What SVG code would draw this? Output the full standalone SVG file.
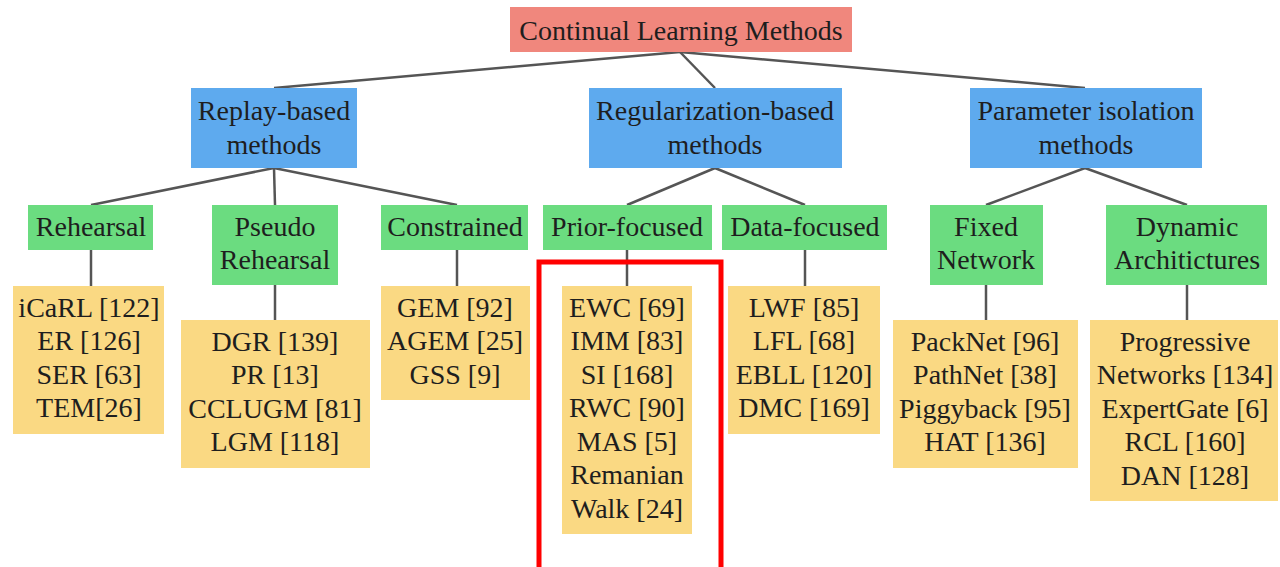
<svg xmlns="http://www.w3.org/2000/svg" width="1280" height="567" viewBox="0 0 1280 567">
<style>
text{font-family:"Liberation Serif","Times New Roman",serif;font-size:28px;fill:#1e1e1e;text-anchor:middle}
.root{fill:#f0877d}
.blue{fill:#5eaaee}
.green{fill:#6bdc80}
.yel{fill:#fad983}
.conn line{stroke:#555;stroke-width:2.5}
</style>
<rect width="1280" height="567" fill="#fff"/>
<g class="conn">
<line x1="680" y1="52" x2="274" y2="88"/>
<line x1="680" y1="52" x2="715" y2="88"/>
<line x1="680" y1="52" x2="1085" y2="88"/>
<line x1="274" y1="168" x2="91" y2="205"/>
<line x1="274" y1="168" x2="275" y2="205"/>
<line x1="274" y1="168" x2="457" y2="205"/>
<line x1="715" y1="168" x2="627" y2="205"/>
<line x1="715" y1="168" x2="805" y2="205"/>
<line x1="1085" y1="168" x2="986" y2="205"/>
<line x1="1085" y1="168" x2="1187" y2="205"/>
<line x1="91" y1="250" x2="91" y2="286"/>
<line x1="275" y1="285" x2="275" y2="320"/>
<line x1="457" y1="250" x2="457" y2="286"/>
<line x1="627" y1="250" x2="627" y2="286"/>
<line x1="805" y1="250" x2="805" y2="286"/>
<line x1="986" y1="285" x2="986" y2="320"/>
<line x1="1187" y1="285" x2="1187" y2="320"/>
</g>
<g id="root"><rect class="root" x="510" y="7" width="342" height="45"/><text x="681" y="40">Continual Learning Methods</text></g>
<g id="replay"><rect class="blue" x="191" y="88" width="166" height="80"/><text x="274" y="120">Replay-based</text><text x="274" y="154">methods</text></g>
<g id="regular"><rect class="blue" x="589" y="88" width="253" height="80"/><text x="715" y="120">Regularization-based</text><text x="715" y="154">methods</text></g>
<g id="param"><rect class="blue" x="970" y="88" width="232" height="80"/><text x="1086" y="120">Parameter isolation</text><text x="1086" y="154">methods</text></g>
<g id="rehearsal"><rect class="green" x="28" y="205" width="125" height="45"/><text x="91" y="236">Rehearsal</text></g>
<g id="pseudo"><rect class="green" x="212" y="205" width="126" height="80"/><text x="275" y="236">Pseudo</text><text x="275" y="269">Rehearsal</text></g>
<g id="constrained"><rect class="green" x="381" y="205" width="147" height="45"/><text x="455" y="236">Constrained</text></g>
<g id="prior"><rect class="green" x="543" y="205" width="169" height="45"/><text x="627" y="236">Prior-focused</text></g>
<g id="data"><rect class="green" x="722" y="205" width="165" height="45"/><text x="805" y="236">Data-focused</text></g>
<g id="fixed"><rect class="green" x="930" y="205" width="113" height="80"/><text x="986" y="236">Fixed</text><text x="986" y="269">Network</text></g>
<g id="dynamic"><rect class="green" x="1106" y="205" width="161" height="80"/><text x="1187" y="236">Dynamic</text><text x="1187" y="269">Architictures</text></g>
<g id="icarl"><rect class="yel" x="13" y="286" width="151" height="148"/><text x="89" y="317">iCaRL [122]</text><text x="89" y="350">ER [126]</text><text x="89" y="384">SER [63]</text><text x="89" y="417">TEM[26]</text></g>
<g id="dgr"><rect class="yel" x="181" y="320" width="189" height="148"/><text x="275" y="351">DGR [139]</text><text x="275" y="384">PR [13]</text><text x="275" y="418">CCLUGM [81]</text><text x="275" y="451">LGM [118]</text></g>
<g id="gem"><rect class="yel" x="381" y="286" width="149" height="114"/><text x="455" y="317">GEM [92]</text><text x="455" y="350">AGEM [25]</text><text x="455" y="384">GSS [9]</text></g>
<g id="ewc"><rect class="yel" x="562" y="286" width="130" height="248"/><text x="627" y="317">EWC [69]</text><text x="627" y="350">IMM [83]</text><text x="627" y="384">SI [168]</text><text x="627" y="417">RWC [90]</text><text x="627" y="451">MAS [5]</text><text x="627" y="484">Remanian</text><text x="627" y="518">Walk [24]</text></g>
<g id="lwf"><rect class="yel" x="728" y="286" width="152" height="148"/><text x="804" y="317">LWF [85]</text><text x="804" y="350">LFL [68]</text><text x="804" y="384">EBLL [120]</text><text x="804" y="417">DMC [169]</text></g>
<g id="packnet"><rect class="yel" x="893" y="320" width="185" height="148"/><text x="985" y="351">PackNet [96]</text><text x="985" y="384">PathNet [38]</text><text x="985" y="418">Piggyback [95]</text><text x="985" y="451">HAT [136]</text></g>
<g id="progressive"><rect class="yel" x="1090" y="320" width="188" height="181"/><text x="1185" y="351">Progressive</text><text x="1185" y="384">Networks [134]</text><text x="1185" y="418">ExpertGate [6]</text><text x="1185" y="451">RCL [160]</text><text x="1185" y="485">DAN [128]</text></g>
<rect x="539" y="262" width="182" height="310" fill="none" stroke="#f00" stroke-width="5"/>
</svg>
